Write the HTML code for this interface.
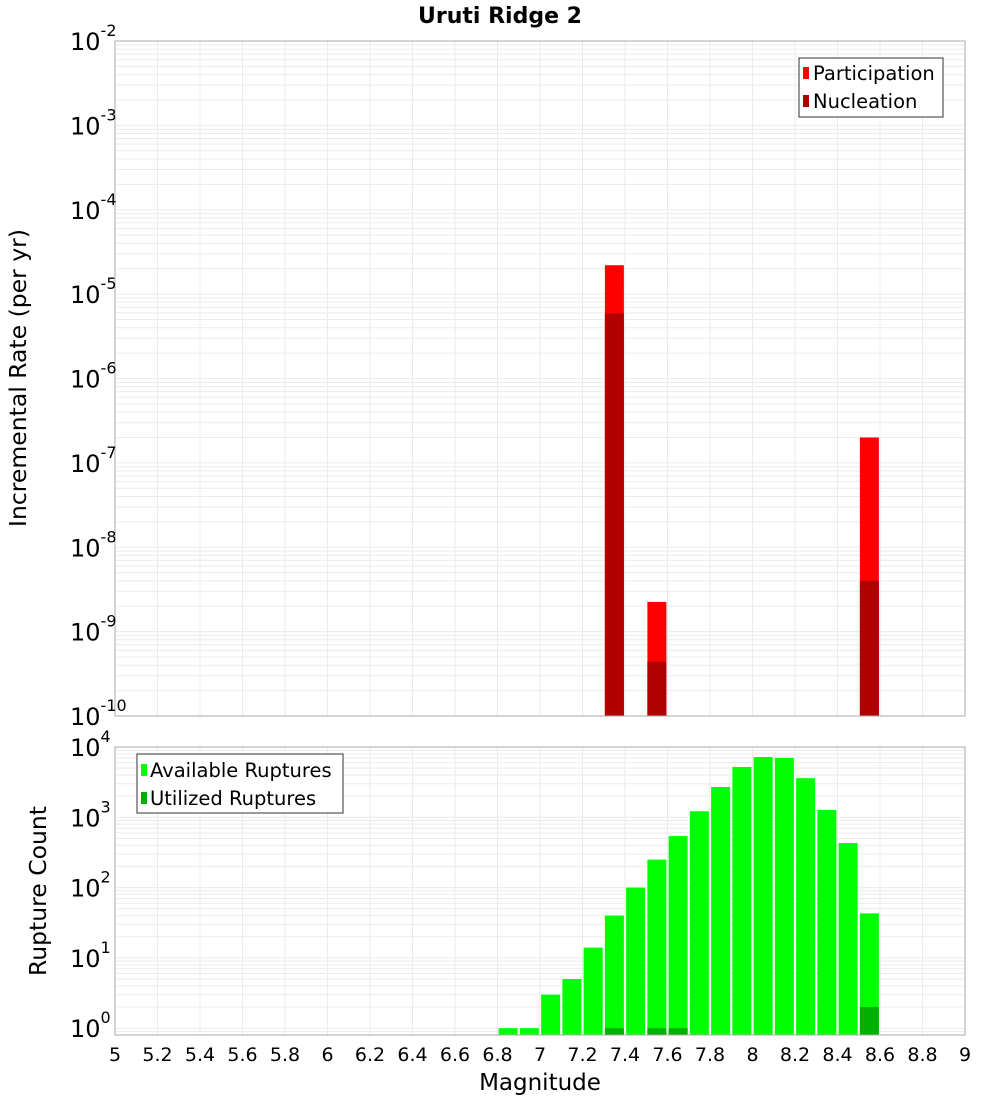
<!DOCTYPE html>
<html><head><meta charset="utf-8"><style>
html,body{margin:0;padding:0;background:#fff;}
svg{display:block;font-family:"DejaVu Sans","Liberation Sans",sans-serif;}
</style></head><body>
<svg id="chart" width="1000" height="1100" xmlns="http://www.w3.org/2000/svg">
<text x="500" y="23" text-anchor="middle" font-size="22" font-weight="bold">Uruti Ridge 2</text>
<text x="0" y="0" transform="translate(26,378) rotate(-90)" text-anchor="middle" font-size="23.5">Incremental Rate (per yr)</text>
<text x="0" y="0" transform="translate(46,891) rotate(-90)" text-anchor="middle" font-size="23.5">Rupture Count</text>
<text x="540" y="1090" text-anchor="middle" font-size="23">Magnitude</text>
<g id="top"></g>
<g id="bot"></g>
<g>
<rect x="799" y="58" width="144" height="59" fill="#fff" stroke="#333"/>
<rect x="803" y="67" width="6" height="12" fill="#ff0000"/>
<text x="813" y="80" font-size="19.5">Participation</text>
<rect x="803" y="95" width="6" height="12" fill="#b20000"/>
<text x="813" y="108" font-size="19.5">Nucleation</text>
</g>
<g>
<rect x="137" y="754" width="206" height="59" fill="#fff" stroke="#333"/>
<rect x="141" y="764" width="6" height="12" fill="#00ff00"/>
<text x="150" y="777" font-size="19.5">Available Ruptures</text>
<rect x="141" y="792" width="6" height="12" fill="#00b000"/>
<text x="150" y="805" font-size="19.5">Utilized Ruptures</text>
</g>
</svg>
<script>
const rateMags = [7.35, 7.55, 8.55];
const participation = [2.2e-5, 2.25e-9, 2.0e-7];
const nucleation = [5.9e-6, 4.4e-10, 4.0e-9];
const countMags = [6.85,6.95,7.05,7.15,7.25,7.35,7.45,7.55,7.65,7.75,7.85,7.95,8.05,8.15,8.25,8.35,8.45,8.55];
const available = [1,1,3,5,14,40,100,250,540,1220,2700,5200,7200,7000,3600,1270,430,43];
const utilizedMags = [7.35,7.55,7.65,8.55];
const utilized = [1,1,1,2];
const xTicks = ["5","5.2","5.4","5.6","5.8","6","6.2","6.4","6.6","6.8","7","7.2","7.4","7.6","7.8","8","8.2","8.4","8.6","8.8","9"];

const NS="http://www.w3.org/2000/svg";
const X0=115,X1=965,XMIN=5,XMAX=9;
const xs=v=>X0+(v-XMIN)/(XMAX-XMIN)*(X1-X0);
const topY0=41,topY1=716,topMin=-10,topMax=-2;
const ty=v=>topY1-(Math.log10(v)-topMin)/(topMax-topMin)*(topY1-topY0);
const botY0=747,botY1=1035,botMin=Math.log10(0.8),botMax=4;
const by=v=>botY1-(Math.log10(v)-botMin)/(botMax-botMin)*(botY1-botY0);
function mk(tag,attrs,parent){const e=document.createElementNS(NS,tag);for(const k in attrs)e.setAttribute(k,attrs[k]);parent.appendChild(e);return e;}

function grid(g,yT,yB,ymap,dmin,dmax){
  mk('rect',{x:X0,y:yT,width:X1-X0,height:yB-yT,fill:'#fff'},g);
  for(let d=dmin;d<dmax;d++){for(let m=1;m<10;m++){const v=m*Math.pow(10,d);const y=ymap(v);if(y<yT-0.5||y>yB+0.5)continue;
    const l=mk('line',{x1:X0,x2:X1,y1:y,y2:y,stroke:'#ebebeb','stroke-width':1},g);
    }}
  for(let i=0;i<xTicks.length;i++){const x=xs(parseFloat(xTicks[i]));
    const l=mk('line',{x1:x,x2:x,y1:yT,y2:yB,stroke:'#ebebeb','stroke-width':1},g);
    }
}
function ylabels(g,exps,ymap){
  exps.forEach(e=>{const y=ymap(Math.pow(10,e));
    const t=mk('text',{x:70,y:y+9,'font-size':24},g);
    
    t.textContent='10';
    const s=mk('tspan',{dy:-14,'font-size':16},t);s.textContent=String(e);
  });
}
const BW=19;
const gt=document.getElementById('top');
grid(gt,topY0,topY1,ty,-10,-2);
rateMags.forEach((m,i)=>{
  const x=xs(m)-BW/2;
  const p=mk('rect',{x:x,y:ty(participation[i]),width:BW,height:topY1-ty(participation[i]),fill:'#ff0000'},gt);
  
  const n=mk('rect',{x:x,y:ty(nucleation[i]),width:BW,height:topY1-ty(nucleation[i]),fill:'#b20000'},gt);
  
});
mk('rect',{x:X0,y:topY0,width:X1-X0,height:topY1-topY0,fill:'none',stroke:'#aaa'},gt);
ylabels(gt,[-2,-3,-4,-5,-6,-7,-8,-9,-10],ty);
const gb=document.getElementById('bot');
grid(gb,botY0,botY1,by,-1,4);
countMags.forEach((m,i)=>{
  const r=mk('rect',{x:xs(m)-BW/2,y:by(available[i]),width:BW,height:botY1-by(available[i]),fill:'#00ff00'},gb);
  
});
utilizedMags.forEach((m,i)=>{
  const r=mk('rect',{x:xs(m)-BW/2,y:by(utilized[i]),width:BW,height:botY1-by(utilized[i]),fill:'#00b000'},gb);
  
});
mk('rect',{x:X0,y:botY0,width:X1-X0,height:botY1-botY0,fill:'none',stroke:'#aaa'},gb);
ylabels(gb,[4,3,2,1,0],by);
xTicks.forEach(t=>{
  const e=mk('text',{x:xs(parseFloat(t)),y:1061,'text-anchor':'middle','font-size':19},gb);
  
  e.textContent=t;
});
</script>
</body></html>
